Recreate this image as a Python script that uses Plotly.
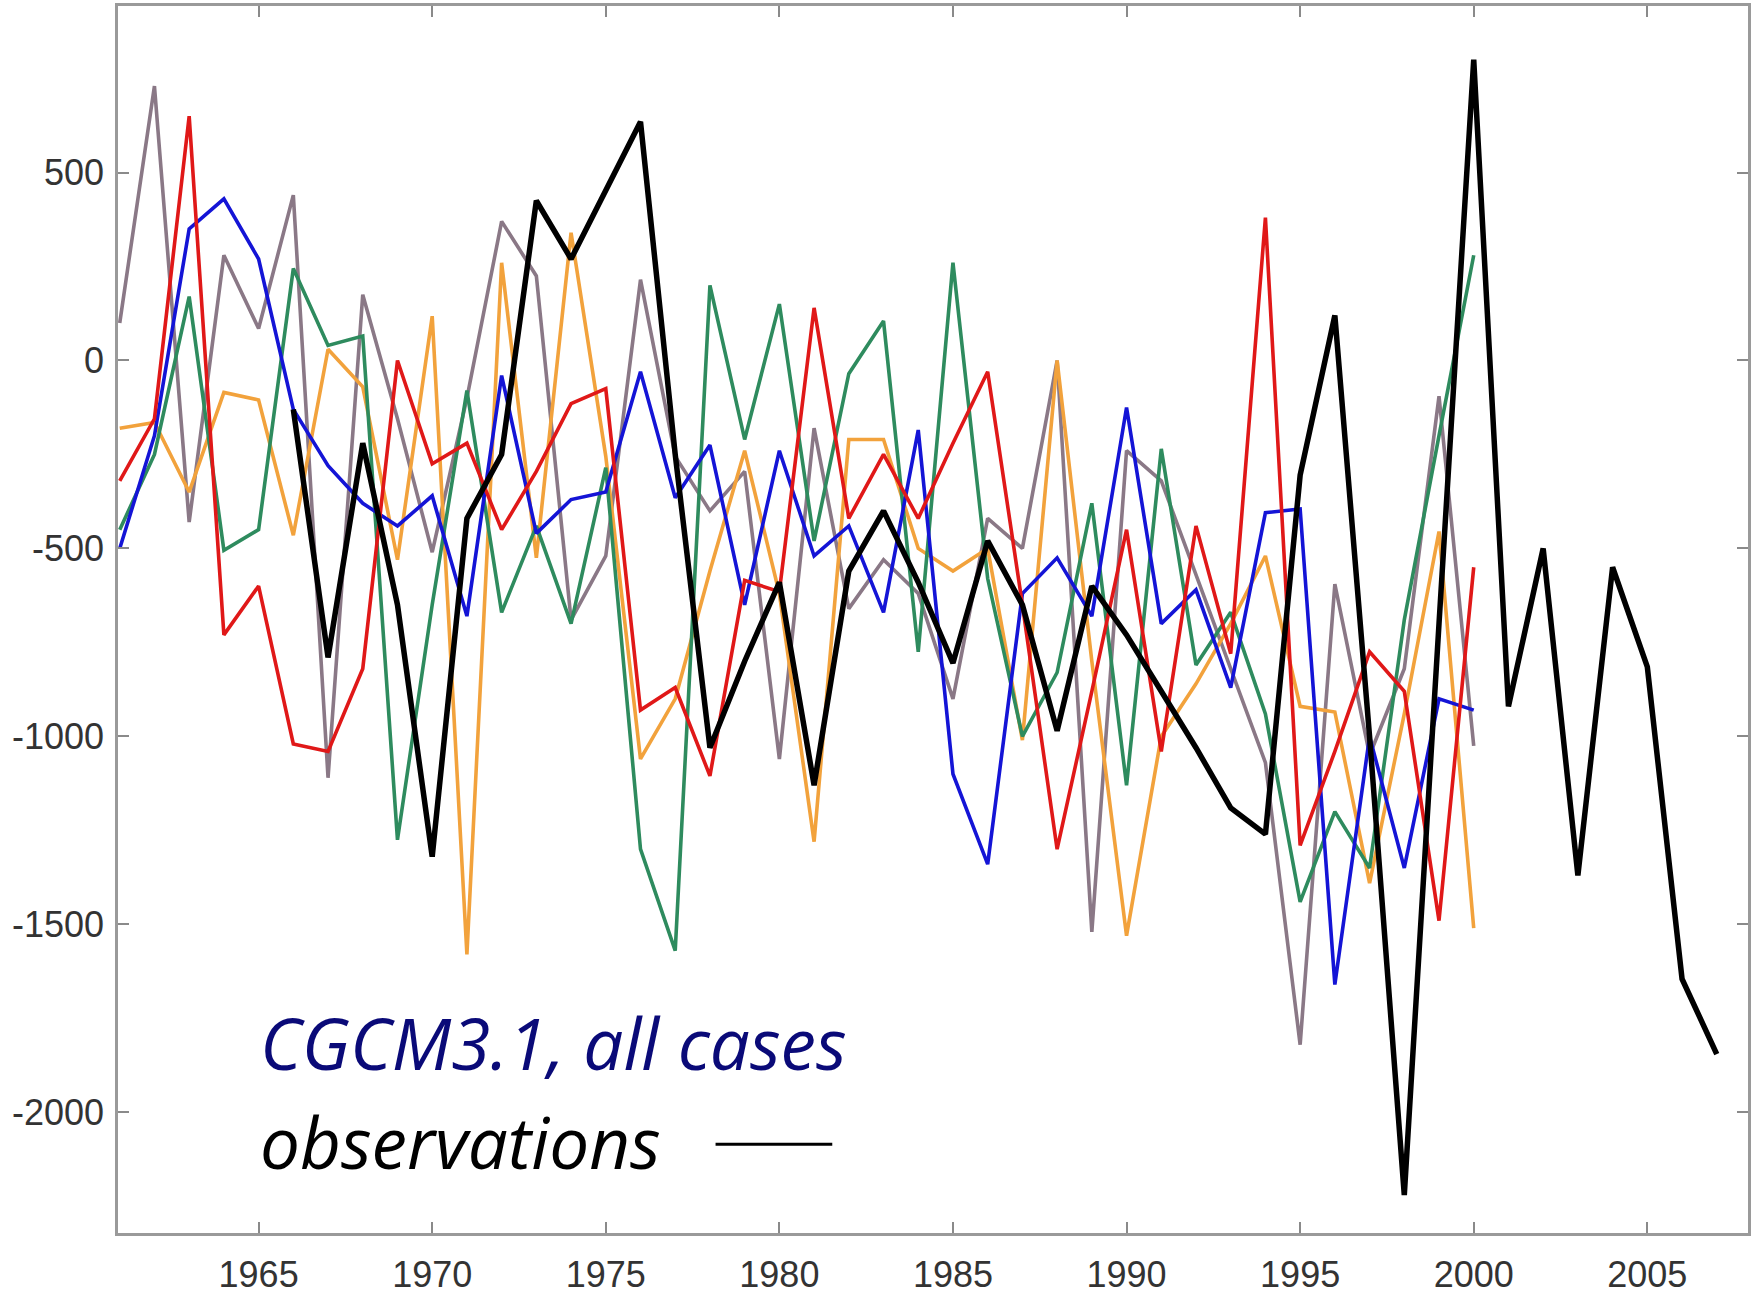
import plotly.graph_objects as go

model_years = list(range(1961, 2001))
obs_years = list(range(1966, 2008))

blue = [-500, -200, 350, 430, 270, -130, -280, -380, -440, -360,
        -680, -40, -460, -370, -350, -30, -365, -225, -650, -240,
        -520, -440, -670, -185, -1100, -1340, -620, -525, -680, -125,
        -700, -610, -870, -405, -395, -1660, -1000, -1350, -900, -930]

red = [-320, -155, 650, -730, -600, -1020, -1040, -820, 0, -275,
       -220, -450, -295, -115, -75, -930, -870, -1105, -585, -615,
       140, -420, -250, -420, -220, -30, -650, -1300, -880, -450,
       -1040, -440, -780, 380, -1290, -1040, -775, -880, -1490, -550]

gray = [100, 730, -430, 280, 85, 440, -1110, 175, -155, -510,
        -100, 370, 225, -690, -520, 215, -255, -400, -295, -1060,
        -180, -660, -530, -620, -900, -420, -500, 0, -1520, -240,
        -320, -570, -820, -1070, -1820, -595, -1050, -820, -95, -1025]

green = [-450, -250, 170, -505, -450, 245, 40, 65, -1275, -650,
         -80, -670, -440, -700, -285, -1300, -1570, 200, -210, 150,
         -480, -35, 105, -775, 260, -580, -1000, -830, -380, -1130,
         -235, -810, -670, -940, -1440, -1200, -1350, -690, -200, 280]

orange = [-180, -165, -350, -85, -105, -465, 30, -70, -530, 118,
          -1580, 260, -525, 340, -255, -1060, -900, -560, -240, -620,
          -1280, -210, -210, -500, -560, -500, -1010, 0, -800, -1530,
          -1000, -860, -700, -520, -920, -935, -1390, -940, -455, -1510]

observations = [-130, -790, -220, -650, -1320, -420, -250, 425, 270, 455,
                635, -250, -1030, -800, -590, -1130, -560, -400, -590, -805,
                -480, -650, -985, -600, -730, -880, -1030, -1190, -1260, -305,
                120, -1000, -2220, -700, 800, -920, -500, -1370, -550, -815,
                -1645, -1845]

x_ticks = [1965, 1970, 1975, 1980, 1985, 1990, 1995, 2000, 2005]
y_ticks = [-2000, -1500, -1000, -500, 0, 500]
y_tick_labels = ["-2000", "-1500", "-1000", "-500", "0", "500"]

model_series = [
    ("gray", gray, "#8a7886"),
    ("orange", orange, "#f2a23c"),
    ("green", green, "#2e8b5e"),
    ("blue", blue, "#1414d6"),
    ("red", red, "#e01818"),
]

fig = go.Figure()
for name, vals, col in model_series:
    fig.add_trace(go.Scatter(x=model_years, y=vals, mode="lines", name=name,
                             line=dict(color=col, width=3.6), showlegend=False))
fig.add_trace(go.Scatter(x=obs_years, y=observations, mode="lines", name="observations",
                         line=dict(color="#000000", width=5.5), showlegend=False))

axis_common = dict(showgrid=False, zeroline=False, showline=True, linecolor="#9a9a9a",
                   linewidth=2.5, mirror="ticks", ticks="inside", ticklen=11,
                   tickwidth=1.5, tickcolor="#8a8a8a",
                   tickfont=dict(family="Liberation Sans, Arial", size=36, color="#333333"))

fig.update_xaxes(range=[1960.95, 2007.9], tickvals=x_ticks, ticklabelstandoff=8, **axis_common)
fig.update_yaxes(range=[-2321, 943], tickvals=y_ticks, ticktext=y_tick_labels,
                 ticklabelstandoff=4, **axis_common)

fig.add_annotation(x=0.086, y=0.1553, xref="paper", yref="paper", xanchor="left", yanchor="middle",
                   text="CGCM3.1, all cases", showarrow=False,
                   font=dict(family="Open Sans", size=71, color="#0a0a78", style="italic"))
fig.add_annotation(x=0.086, y=0.0748, xref="paper", yref="paper", xanchor="left", yanchor="middle",
                   text="observations", showarrow=False,
                   font=dict(family="Open Sans", size=71, color="#000000", style="italic"))
fig.add_shape(type="line", xref="paper", yref="paper", x0=0.3666, x1=0.4382, y0=0.0724, y1=0.0724,
              line=dict(color="#000000", width=3))

fig.update_layout(width=1754, height=1298, margin=dict(l=118, r=3, t=6, b=62),
                  paper_bgcolor="white", plot_bgcolor="white")

fig.write_html("out.html")
